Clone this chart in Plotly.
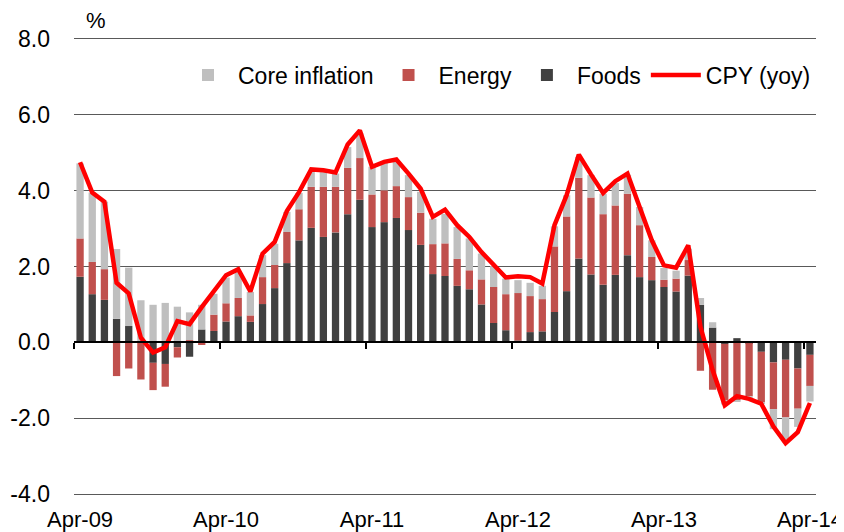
import plotly.graph_objects as go

months = []
mnames = ["Jan", "Feb", "Mar", "Apr", "May", "Jun", "Jul", "Aug", "Sep", "Oct", "Nov", "Dec"]
for k in range(61):
    m = (3 + k) % 12
    y = 9 + (3 + k) // 12
    months.append(f"{mnames[m]}-{y:02d}")

foods = [1.73, 1.27, 1.12, 0.62, 0.43, 0.03, -0.54, -0.57, -0.13, -0.38, 0.34, 0.30,
         0.55, 0.69, 0.54, 1.01, 1.43, 2.09, 2.69, 3.02, 2.78, 2.90, 3.38, 3.76,
         3.04, 3.17, 3.28, 2.96, 2.57, 1.80, 1.75, 1.49, 1.40, 1.00, 0.51, 0.32,
         0.05, 0.27, 0.29, 0.80, 1.35, 2.21, 1.79, 1.52, 1.78, 2.30, 1.72, 1.64,
         1.46, 1.34, 1.76, 0.99, 0.39, -0.04, 0.11, -0.02, -0.25, -0.53, -0.46, -0.69,
         -0.33]
energy = [1.01, 0.85, 0.81, -0.89, -0.69, -0.98, -0.72, -0.60, -0.27, 0.06, -0.07, 0.43,
          0.48, 0.48, 0.17, 0.71, 0.61, 0.82, 0.82, 1.08, 1.32, 1.20, 1.22, 1.10,
          0.86, 0.84, 0.84, 0.87, 0.85, 0.79, 0.86, 0.71, 0.50, 0.66, 0.95, 0.95,
          1.25, 0.95, 0.85, 1.73, 1.97, 2.13, 2.03, 1.86, 1.83, 1.62, 1.37, 0.61,
          0.19, 0.34, 0.41, -0.75, -1.25, -1.48, -1.53, -1.40, -1.33, -1.23, -1.52, -1.06,
          -0.82]
core = [1.98, 1.83, 1.78, 1.84, 1.54, 1.08, 0.99, 1.04, 0.94, 0.73, 0.65, 0.55,
        0.68, 0.70, 0.62, 0.58, 0.56, 0.53, 0.43, 0.39, 0.39, 0.35, 0.55, 0.65,
        0.73, 0.72, 0.64, 0.58, 0.55, 0.67, 0.78, 0.84, 0.84, 0.68, 0.55, 0.41,
        0.34, 0.35, 0.35, 0.53, 0.56, 0.55, 0.59, 0.54, 0.59, 0.50, 0.48, 0.44,
        0.31, 0.21, 0.30, 0.18, 0.14, -0.12, -0.02, -0.07, -0.04, -0.53, -0.58, -0.48,
        -0.41]
cpi = [4.75, 3.95, 3.71, 1.57, 1.29, 0.12, -0.27, -0.13, 0.56, 0.48, 0.93, 1.35,
       1.77, 1.93, 1.34, 2.34, 2.65, 3.46, 3.96, 4.56, 4.54, 4.48, 5.22, 5.59,
       4.63, 4.76, 4.82, 4.45, 4.05, 3.31, 3.50, 3.09, 2.78, 2.38, 2.03, 1.71,
       1.74, 1.72, 1.55, 3.09, 3.88, 4.95, 4.43, 3.94, 4.25, 4.45, 3.57, 2.69,
       2.03, 1.97, 2.56, 0.41, -0.73, -1.66, -1.42, -1.49, -1.62, -2.22, -2.66, -2.37,
       -1.60]

y_tickvals = [-4, -2, 0, 2, 4, 6, 8]
y_ticktext = ["-4.0", "-2.0", "0.0", "2.0", "4.0", "6.0", "8.0"]

FONT = "Liberation Sans, Arial, sans-serif"
FS = 24

fig = go.Figure()
fig.add_trace(go.Bar(x=months, y=foods, name="Foods", marker=dict(color="#404040", line=dict(width=0)), legendrank=3))
fig.add_trace(go.Bar(x=months, y=energy, name="Energy", marker=dict(color="#C0504D", line=dict(width=0)), legendrank=2))
fig.add_trace(go.Bar(x=months, y=core, name="Core inflation", marker=dict(color="#BFBFBF", line=dict(width=0)), legendrank=1))
fig.add_trace(go.Scatter(x=months, y=cpi, name="CPY (yoy)", mode="lines",
                         line=dict(color="#FF0000", width=4.5), xaxis="x2", legendrank=4))

# page body has an 8px margin, so the figure is sized to fill the rest of the window
fig.update_layout(
    width=836, height=524,
    margin=dict(l=66, r=28, t=31, b=38, autoexpand=False),
    paper_bgcolor="white", plot_bgcolor="white",
    barmode="relative", bargap=0.4,
    font=dict(family=FONT, size=FS, color="black"),
    showlegend=True,
    legend=dict(orientation="h", x=1.0, xanchor="right", y=0.921, yanchor="middle",
                bgcolor="rgba(0,0,0,0)", font=dict(size=23), itemwidth=50,
                traceorder="normal"),
    xaxis=dict(type="category", categoryorder="array", categoryarray=months,
               range=[-0.5, 60.5], tickmode="linear", tick0=0, dtick=12,
               ticks="", showgrid=False, zeroline=False,
               showline=True, mirror=True, linecolor="#595959", linewidth=1,
               automargin=False, ticklabelstandoff=6, tickfont=dict(size=22)),
    xaxis2=dict(type="category", categoryorder="array", categoryarray=months,
                range=[-0.5, 60.5], overlaying="x", anchor="free", position=1/3,
                tickmode="linear", tick0=0, dtick=12, tickson="boundaries",
                ticks="outside", ticklen=6, tickwidth=2, tickcolor="black",
                showticklabels=False, showgrid=False, zeroline=False,
                showline=True, linecolor="black", linewidth=2, automargin=False),
    yaxis=dict(range=[-4, 8], tickmode="array", tickvals=y_tickvals, ticktext=y_ticktext,
               showgrid=True, gridcolor="#595959", gridwidth=1,
               zeroline=False, showline=False, ticks="", automargin=False,
               ticklabelstandoff=23, tickfont=dict(size=23)),
    annotations=[dict(text="%", xref="paper", yref="paper", x=0.03, y=1.04,
                      xanchor="center", yanchor="middle", showarrow=False,
                      font=dict(size=22))],
)

fig.write_html("out.html")
